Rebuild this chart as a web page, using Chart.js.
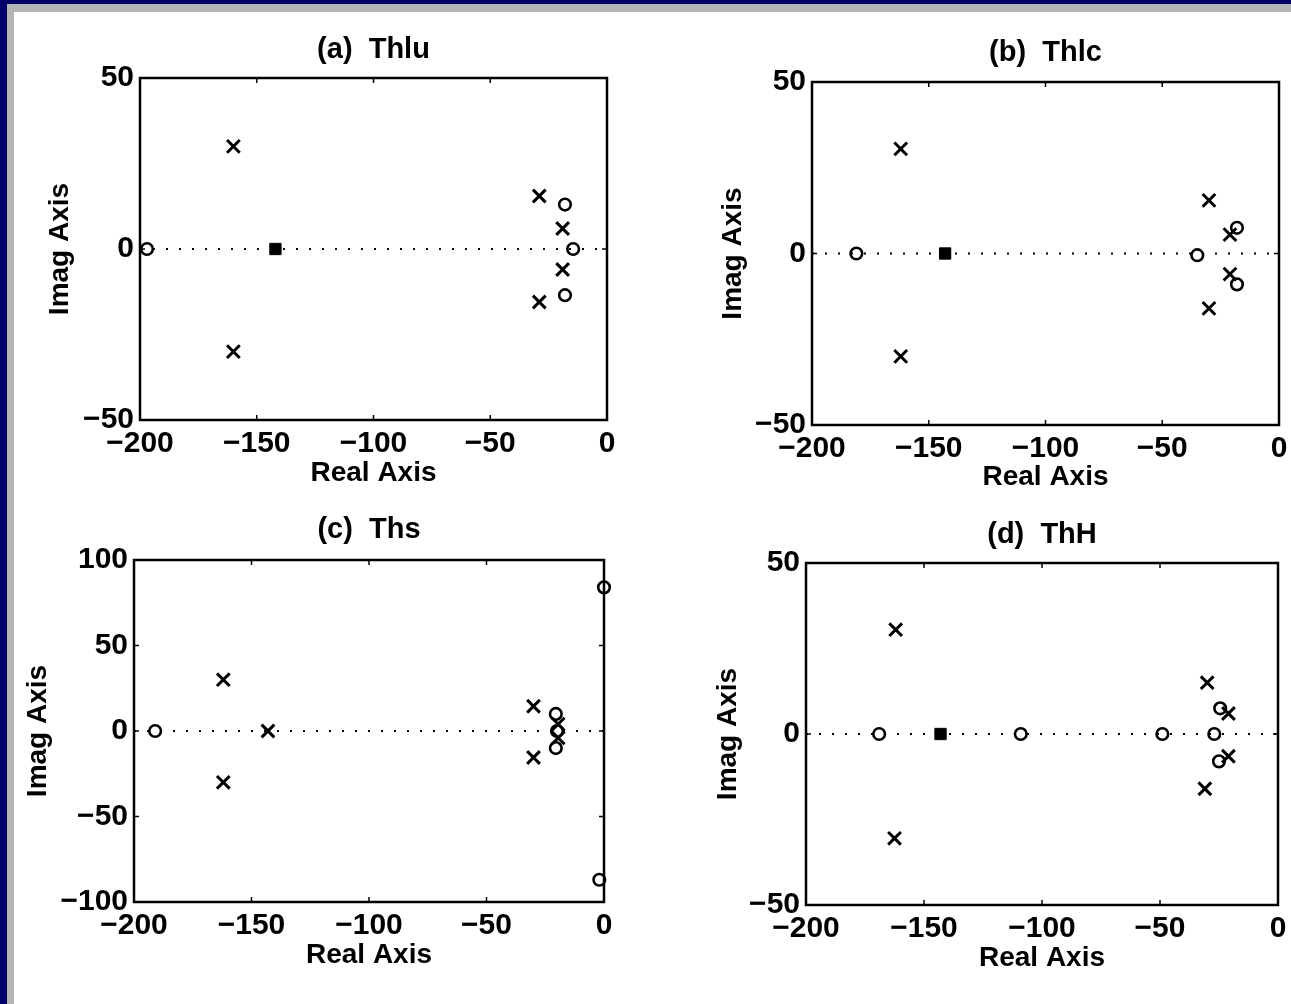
<!DOCTYPE html>
<html><head><meta charset="utf-8">
<script src="https://cdn.jsdelivr.net/npm/chart.js@4/dist/chart.umd.min.js"></script>
<style>
html,body{margin:0;padding:0;background:#fff;}
#page{position:relative;width:1291px;height:1004px;background:#fff;overflow:hidden;}
.band{position:absolute;}
canvas{position:absolute;}
</style></head>
<body>
<div id="page">
  <div class="band" style="left:0;top:0;width:1291px;height:4px;background:#000068"></div>
  <div class="band" style="left:0;top:0;width:7px;height:1004px;background:#000068"></div>
  <div class="band" style="left:7px;top:4px;width:1284px;height:8px;background:#b4b4b4"></div>
  <div class="band" style="left:7px;top:4px;width:7px;height:1000px;background:#b4b4b4"></div>
  <canvas id="ca"></canvas>
  <canvas id="cb"></canvas>
  <canvas id="cc"></canvas>
  <canvas id="cd"></canvas>
</div>
<script>
// ---------- data ----------
const panelTitles = ['(a)  Thlu', '(b)  Thlc', '(c)  Ths', '(d)  ThH'];
const realAxisTitle = 'Real Axis';
const imagAxisTitle = 'Imag Axis';
const realTicks = [-200, -150, -100, -50, 0];
const imagTicks50 = [-50, 0, 50];
const imagTicks100 = [-100, -50, 0, 50, 100];
const realAxisLine = [-200, 0];

// (a) Thlu
const aPoleRe = [-160, -160, -29, -29, -19, -19];
const aPoleIm = [30, -30, 15.5, -15.5, 6, -6];
const aZeroRe = [-197, -18, -14.5, -18];
const aZeroIm = [0, 13, 0, -13.5];
const aFilledRe = [-142];
const aFilledIm = [0];

// (b) Thlc
const bPoleRe = [-162, -162, -30, -30, -21, -21];
const bPoleIm = [30.5, -30, 15.5, -16, 5.5, -6];
const bZeroRe = [-181, -35, -18, -18];
const bZeroIm = [0, -0.5, 7.5, -9];
const bFilledRe = [-143];
const bFilledIm = [0];

// (c) Ths
const cPoleRe = [-162, -162, -143, -30, -30, -19.5, -19.5];
const cPoleIm = [30, -30, 0, 14.5, -15.5, 4, -4];
const cZeroRe = [-191, -20.5, -20, -20.5, 0, -2];
const cZeroIm = [0, 10, 0, -10, 84, -87];

// (d) ThH
const dPoleRe = [-162, -162.5, -30, -31, -21, -21];
const dPoleIm = [30.5, -30.5, 15, -16, 6, -6.5];
const dZeroRe = [-169, -109, -49, -27, -24.5, -25];
const dZeroIm = [0, 0, 0, 0, 7.5, -8];
const dFilledRe = [-143];
const dFilledIm = [0];

// ---------- helpers ----------
const pts = (re, im) => re.map((v, i) => ({x: v, y: im[i]}));
const fmt = v => String(v).replace('-', '\u2212');
const FONT = "'Liberation Sans', Arial, Helvetica, sans-serif";
Chart.defaults.font.family = FONT;
Chart.defaults.color = '#000';

const framePlugin = {
  id: 'frame',
  beforeDatasetsDraw(chart) {
    const {ctx, chartArea: a, scales: {x, y}} = chart;
    ctx.save();
    ctx.strokeStyle = '#000';
    ctx.lineWidth = 2.5;
    ctx.strokeRect(a.left, a.top, a.right - a.left, a.bottom - a.top);
    ctx.lineWidth = 1.5;
    const t = 5;
    const seg = (x1, y1, x2, y2) => { ctx.beginPath(); ctx.moveTo(x1, y1); ctx.lineTo(x2, y2); ctx.stroke(); };
    x.ticks.forEach(tk => { const p = x.getPixelForValue(tk.value); seg(p, a.bottom, p, a.bottom - t); seg(p, a.top, p, a.top + t); });
    y.ticks.forEach(tk => { const p = y.getPixelForValue(tk.value); seg(a.left, p, a.left + t, p); seg(a.right, p, a.right - t, p); });
    ctx.restore();
  }
};

function makePanel(id, g, title, yTicks, poles, zeros, filled, filledStyle) {
  const cv = document.getElementById(id);
  cv.width = g.cw; cv.height = g.ch;
  cv.style.left = g.cl + 'px'; cv.style.top = g.ct + 'px';
  const fs = 28, lh = fs * 1.2, tkfs = 30, tfs = 29, tlh = tfs * 1.2;
  const titlePadTop = (g.titleY - g.ct) - tlh / 2;
  const titlePadBottom = (g.T - g.ct) - titlePadTop - tlh;
  const yAxisW = g.L - g.cl;
  const xAxisH = (g.ct + g.ch) - g.B;
  const yTitlePad = (g.yTitleX - g.cl) - lh / 2;
  const xTitlePad = (g.ct + g.ch) - g.xTitleY - lh / 2;

  const datasets = [
    {type: 'line', data: pts(realAxisLine, realAxisLine.map(() => 0)), borderColor: '#000', borderWidth: 2,
     borderDash: [2, 11], pointRadius: 0, fill: false, order: 5},
    {data: pts(poles[0], poles[1]), pointStyle: 'crossRot', pointRadius: 9, borderWidth: 3,
     borderColor: '#000', backgroundColor: '#000', clip: false, order: 1},
    {data: pts(zeros[0], zeros[1]), pointStyle: 'circle', pointRadius: 5.8, borderWidth: 2.6,
     borderColor: '#000', backgroundColor: 'rgba(0,0,0,0)', clip: false, order: 2}
  ];
  if (filled) {
    datasets.push({data: pts(filled[0], filled[1]), pointStyle: filledStyle, pointRadius: 8,
      borderWidth: 1, borderColor: '#000', backgroundColor: '#000', clip: false, order: 0});
  }

  new Chart(cv, {
    type: 'scatter',
    data: {datasets},
    plugins: [framePlugin],
    options: {
      responsive: false, animation: false, devicePixelRatio: 1,
      layout: {padding: {left: 0, top: 0, bottom: 0, right: (g.cl + g.cw) - g.R}},
      plugins: {
        legend: {display: false}, tooltip: {enabled: false},
        title: {display: true, fullSize: false, text: title, color: '#000', font: {size: tfs, weight: 'bold', lineHeight: 1.2},
                padding: {top: titlePadTop, bottom: titlePadBottom}}
      },
      scales: {
        x: {
          type: 'linear', min: realTicks[0], max: realTicks[realTicks.length - 1],
          afterBuildTicks: s => { s.ticks = realTicks.map(v => ({value: v})); },
          afterFit: s => { s.height = xAxisH; s.paddingLeft = 0; s.paddingRight = 0; },
          grid: {display: false, drawTicks: false}, border: {display: false},
          ticks: {padding: 6, color: '#000', font: {size: tkfs, weight: 'bold'}, callback: fmt, maxRotation: 0, autoSkip: false},
          title: {display: true, text: realAxisTitle, color: '#000', font: {size: fs, weight: 'bold', lineHeight: 1.2},
                  padding: {top: 0, bottom: xTitlePad}}
        },
        y: {
          type: 'linear', min: yTicks[0], max: yTicks[yTicks.length - 1],
          afterBuildTicks: s => { s.ticks = yTicks.map(v => ({value: v})); },
          afterFit: s => { s.width = yAxisW; s.paddingTop = 0; s.paddingBottom = 0; },
          grid: {display: false, drawTicks: false}, border: {display: false},
          ticks: {padding: 6, color: '#000', font: {size: tkfs, weight: 'bold'}, callback: fmt, autoSkip: false},
          title: {display: true, text: imagAxisTitle, color: '#000', font: {size: fs, weight: 'bold', lineHeight: 1.2},
                  padding: {top: yTitlePad, bottom: 0}}
        }
      }
    }
  });
}

makePanel('ca', {cl: 14, ct: 12, cw: 631, ch: 488, L: 140, R: 607, T: 78, B: 420, titleY: 50, xTitleY: 473, yTitleX: 60},
  panelTitles[0], imagTicks50, [aPoleRe, aPoleIm], [aZeroRe, aZeroIm], [aFilledRe, aFilledIm], 'rect');
makePanel('cb', {cl: 645, ct: 12, cw: 646, ch: 488, L: 812, R: 1283, T: 82, B: 425, titleY: 53, xTitleY: 477, yTitleX: 733},
  panelTitles[1], imagTicks50, [bPoleRe, bPoleIm], [bZeroRe, bZeroIm], [bFilledRe, bFilledIm], 'rect');
makePanel('cc', {cl: 14, ct: 500, cw: 631, ch: 504, L: 134, R: 604, T: 560, B: 902, titleY: 530, xTitleY: 955, yTitleX: 38},
  panelTitles[2], imagTicks100, [cPoleRe, cPoleIm], [cZeroRe, cZeroIm], null, null);
makePanel('cd', {cl: 645, ct: 500, cw: 646, ch: 504, L: 806, R: 1278, T: 563, B: 905, titleY: 535, xTitleY: 958, yTitleX: 728},
  panelTitles[3], imagTicks50, [dPoleRe, dPoleIm], [dZeroRe, dZeroIm], [dFilledRe, dFilledIm], 'rect');
</script>
</body></html>
